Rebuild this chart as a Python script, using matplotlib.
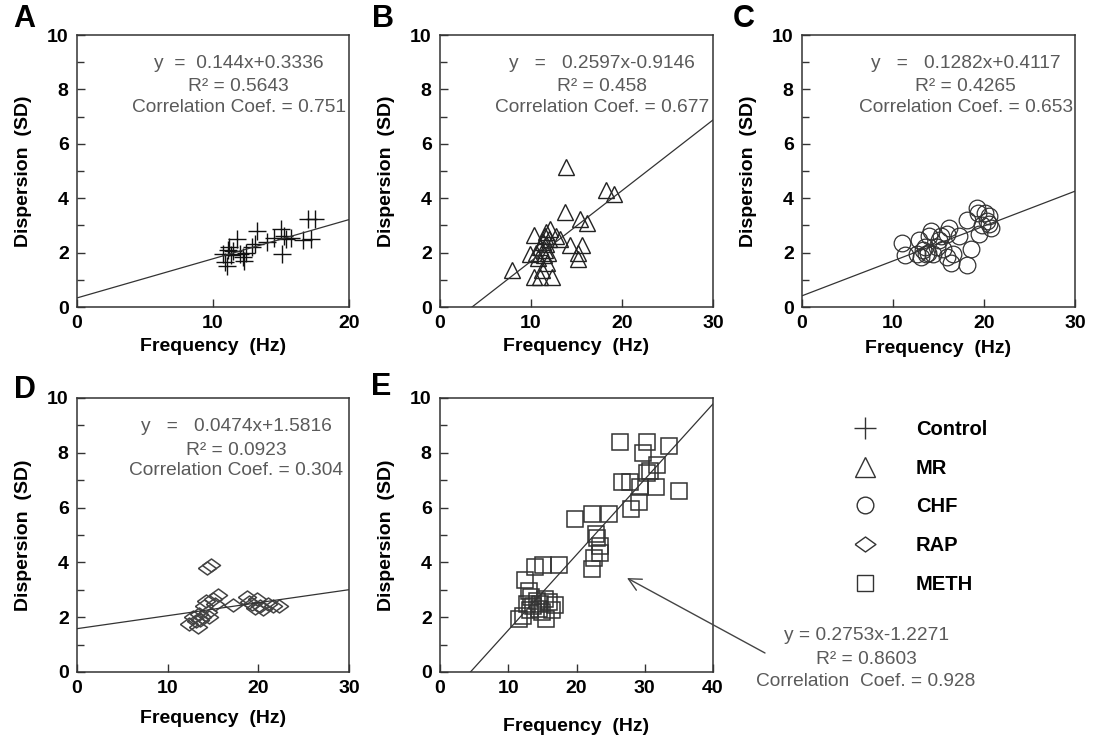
import numpy as np
import matplotlib
matplotlib.use('Agg')
import matplotlib.pyplot as plt
from matplotlib.lines import Line2D
from matplotlib.ticker import MultipleLocator

plt.rcParams['font.family'] = ['Liberation Sans', 'DejaVu Sans']

# ---- data ----
A_x = [10.7, 10.9, 11.0, 11.1, 11.2, 11.3, 11.5, 11.8, 12.0, 12.2, 12.3, 12.4, 12.9,
       13.1, 13.2, 14.0, 14.5, 15.0, 15.1, 15.2, 15.4, 15.7, 16.6, 17.0, 17.2, 17.5]
A_y = [1.95, 1.65, 1.5, 2.1, 2.2, 1.9, 2.05, 2.5, 1.95, 1.85, 1.7, 2.0, 2.2,
       2.3, 2.8, 2.4, 2.55, 2.85, 1.95, 2.6, 2.5, 2.55, 2.45, 3.25, 2.5, 3.25]

B_x = [7.9, 9.9, 10.3, 10.3, 10.5, 10.8, 11.0, 11.0, 11.2, 11.3, 11.4, 11.5, 11.5, 11.6,
       11.7, 11.8, 11.9, 12.0, 12.1, 12.3, 12.8, 13.2, 13.75, 13.9, 14.3, 15.2, 15.2,
       15.4, 15.6, 16.1, 18.2, 19.1]
B_y = [1.35, 1.95, 2.65, 1.1, 2.0, 1.8, 1.1, 2.2, 1.35, 2.4, 1.9, 2.6, 2.1, 2.3,
       2.75, 1.6, 2.0, 2.5, 2.85, 1.1, 2.6, 2.5, 3.5, 5.15, 2.27, 1.78, 2.0,
       3.25, 2.27, 3.07, 4.3, 4.17]

C_x = [11.0, 11.3, 12.6, 12.9, 13.1, 13.3, 13.5, 13.6, 13.8, 14.0, 14.2, 14.4, 14.8,
       15.1, 15.3, 15.5, 15.9, 15.9, 16.2, 16.4, 16.6, 17.3, 18.1, 18.1, 18.6, 19.2,
       19.3, 19.5, 19.8, 20.1, 20.3, 20.6, 20.8, 20.5]
C_y = [2.35, 1.9, 1.95, 2.45, 1.85, 2.1, 2.2, 1.95, 2.0, 2.6, 2.8, 1.95, 2.2,
       2.45, 2.6, 2.15, 2.7, 1.85, 2.9, 1.6, 1.95, 2.6, 3.2, 1.55, 2.15, 3.65,
       3.45, 2.7, 3.0, 3.45, 3.15, 3.35, 2.9, 3.05]

D_x = [12.4, 12.8, 13.1, 13.3, 13.5, 13.6, 13.8, 14.0, 14.2, 14.3, 14.5, 14.6, 14.8,
       15.0, 15.2, 15.6, 17.2, 18.7, 19.0, 19.3, 19.6, 19.8, 20.2, 20.5, 21.1, 21.6, 22.3]
D_y = [1.75, 2.0, 1.85, 1.65, 2.1, 1.9, 2.0, 2.4, 2.6, 3.8, 2.2, 2.0, 3.9,
       2.65, 2.5, 2.8, 2.45, 2.75, 2.55, 2.5, 2.35, 2.65, 2.4, 2.3, 2.5, 2.4, 2.4]

E_x = [11.6, 12.2, 12.5, 12.7, 13.0, 13.2, 13.4, 13.6, 13.9, 14.2, 14.5, 14.7, 15.0,
       15.1, 15.4, 15.6, 16.0, 16.4, 16.9, 17.4, 19.8, 22.2, 22.3, 22.5, 22.9, 23.0,
       23.4, 23.5, 24.7, 26.4, 26.6, 27.8, 28.0, 29.2, 29.3, 29.8, 30.3, 30.3, 30.8,
       31.7, 31.8, 33.6, 35.0]
E_y = [1.95, 2.05, 3.35, 2.5, 2.95, 2.25, 2.75, 2.4, 3.85, 2.6, 2.3, 2.5, 2.2,
       3.9, 2.65, 1.95, 2.55, 2.25, 2.45, 3.9, 5.6, 5.75, 3.75, 4.15, 5.05, 4.9,
       4.35, 4.6, 5.75, 8.4, 6.95, 6.95, 5.95, 6.2, 6.75, 8.0, 8.4, 7.25, 7.35,
       6.75, 7.55, 8.25, 6.6]

groups = ['Control', 'MR', 'CHF', 'RAP', 'METH']
slopes = [0.144, 0.2597, 0.1282, 0.0474, 0.2753]
intercepts = [0.3336, -0.9146, 0.4117, 1.5816, -1.2271]
x_max = [20, 30, 30, 30, 40]
eq_text = ['y  =  0.144x+0.3336', 'y   =   0.2597x-0.9146', 'y   =   0.1282x+0.4117',
           'y   =   0.0474x+1.5816', 'y = 0.2753x-1.2271']
r2_text = ['R\u00b2 = 0.5643', 'R\u00b2 = 0.458', 'R\u00b2 = 0.4265',
           'R\u00b2 = 0.0923', 'R\u00b2 = 0.8603']
cc_text = ['Correlation Coef. = 0.751', 'Correlation Coef. = 0.677',
           'Correlation Coef. = 0.653', 'Correlation Coef. = 0.304',
           'Correlation  Coef. = 0.928']

diamond = [(-1, 0), (0, 0.72), (1, 0), (0, -0.72), (-1, 0)]
# ms: size in the panels, lms: size in the legend
styles = [
    dict(marker='+', ms=13, lms=16, mew=1.0, color='#111111'),
    dict(marker='^', ms=12, lms=14, mew=1.0, color='#222222'),
    dict(marker='o', ms=12, lms=12, mew=0.9, color='#333333'),
    dict(marker=diamond, ms=13, lms=15, mew=1.1, color='#444444'),
    dict(marker='s', ms=12, lms=11, mew=1.1, color='#333333'),
]

# ---- layout (pixels of a 1098x748 figure) ----
W, H = 1098, 748
boxes = [(77, 35, 349, 307), (440, 35, 713, 307), (802, 35, 1075, 307),
         (77, 398, 349, 672), (440, 398, 713, 672)]
letters = ['A', 'B', 'C', 'D', 'E']
letter_pos = [(24, 19), (383, 19), (744, 19), (25, 390), (381, 387)]
xlab_y = [-0.114, -0.114, -0.12, -0.139, -0.168]
text_cx = [0.595, 0.595, 0.60, 0.585]
note_color = '#5a5a5a'

fig = plt.figure(figsize=(W / 100, H / 100), dpi=100)
datasets = [(A_x, A_y), (B_x, B_y), (C_x, C_y), (D_x, D_y), (E_x, E_y)]
axes = []
for i, (l, t, r, b) in enumerate(boxes):
    ax = fig.add_axes([l / W, 1 - b / H, (r - l) / W, (b - t) / H])
    axes.append(ax)
    xs, ys = datasets[i]
    st = styles[i]
    ax.plot(xs, ys, ls='none', marker=st['marker'], ms=st['ms'], mew=st['mew'],
            mec=st['color'], mfc='none', color=st['color'])

    # regression line, from the x-axis (or x=0) to the right edge
    x0 = max(0.0, -intercepts[i] / slopes[i])
    xl = np.linspace(x0, x_max[i], 50)
    ax.plot(xl, slopes[i] * xl + intercepts[i], color='#333333', lw=0.9)

    ax.set_xlim(0, x_max[i])
    ax.set_ylim(0, 10)
    ax.xaxis.set_major_locator(MultipleLocator(10))
    ax.yaxis.set_major_locator(MultipleLocator(2))
    ax.yaxis.set_minor_locator(MultipleLocator(1))
    ax.tick_params(direction='in', length=6, width=1, pad=6, labelsize=14,
                   top=False, right=False, color='#333333')
    ax.tick_params(which='minor', direction='in', length=5, width=1, color='#333333')
    for lab in ax.get_xticklabels() + ax.get_yticklabels():
        lab.set_fontweight('bold')
    for sp in ax.spines.values():
        sp.set_linewidth(1.1)
        sp.set_color('#333333')

    ax.set_xlabel('Frequency  (Hz)', fontsize=14, fontweight='bold')
    ax.set_ylabel('Dispersion  (SD)', fontsize=14, fontweight='bold')
    ax.xaxis.set_label_coords(0.5, xlab_y[i])
    ax.yaxis.set_label_coords(-0.165, 0.5)

    lx, ly = letter_pos[i]
    fig.text(lx / W, 1 - ly / H, letters[i], fontsize=22, fontweight='bold',
             ha='center', va='center')

    if i < 4:
        cx = text_cx[i]
        for txt, yy in zip([eq_text[i], r2_text[i], cc_text[i]], [0.897, 0.81, 0.735]):
            ax.text(cx, yy, txt, transform=ax.transAxes, ha='center', va='center',
                    fontsize=13.8, color=note_color)

# E annotation outside the axes, with an arrow
for txt, yy in zip([eq_text[4], r2_text[4], cc_text[4]], [635, 659, 682]):
    fig.text(866 / W, 1 - yy / H, txt, ha='center', va='center', fontsize=13.8,
             color=note_color)
axes[4].annotate('', xy=(27.4, 3.43), xycoords='data',
                 xytext=(765 / W, 1 - 653 / H), textcoords='figure fraction',
                 arrowprops=dict(arrowstyle='->, head_length=0.9, head_width=0.45',
                                 color='#444444', lw=1.0, shrinkA=0, shrinkB=0),
                 annotation_clip=False)

# legend
handles = []
for st in styles:
    handles.append(Line2D([], [], ls='none', marker=st['marker'], ms=st['lms'],
                          mew=1.0, mec='#333333', mfc='none'))
leg = fig.legend(handles, groups, loc='upper left', bbox_to_anchor=(855 / W, 1 - 420 / H),
                 bbox_transform=fig.transFigure, frameon=False, borderpad=0,
                 borderaxespad=0, handlelength=1.0, handletextpad=2.03,
                 labelspacing=0.98, prop=dict(size=14.5, weight='bold'))

fig.savefig('out.png', dpi=100, facecolor='white')
